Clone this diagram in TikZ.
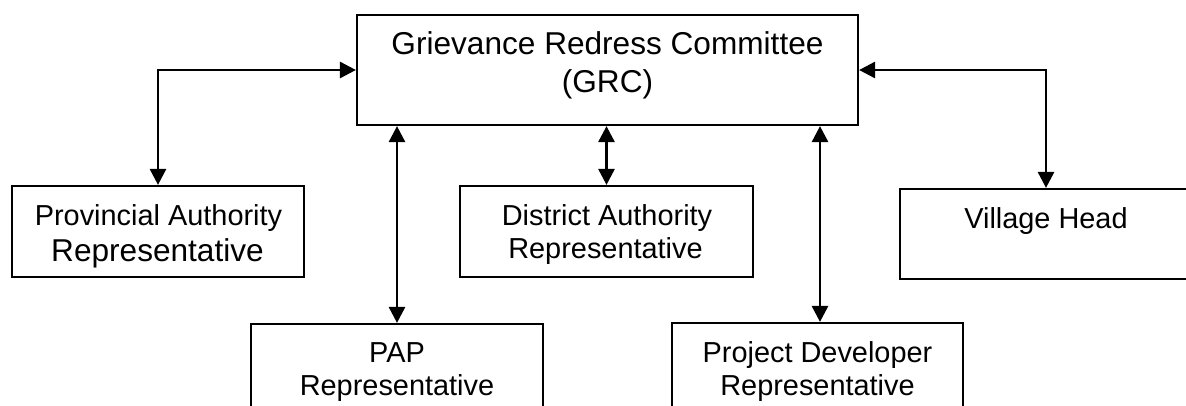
\documentclass[tikz,border=0pt]{standalone}
\usepackage{fontspec}
\setmainfont{Liberation Sans}
\usetikzlibrary{arrows.meta}
\begin{document}
\begin{tikzpicture}[x=1pt,y=-1pt,
  box/.style={draw=black, line width=2.2pt, rectangle, inner sep=0pt, fill=white},
  txt/.style={anchor=base, inner sep=0pt, font=\fontsize{28.9}{34}\selectfont},
  bigtxt/.style={anchor=base, inner sep=0pt, font=\fontsize{31.6}{38}\selectfont},
  arr/.style={line width=2.8pt, {Triangle[length=16pt,width=16pt]}-{Triangle[length=16pt,width=16pt]}}
]
\useasboundingbox (0,0) rectangle (1186,405);
\clip (0,0) rectangle (1186,405);
% boxes
\node[box, minimum width=501pt, minimum height=110pt] (grc) at (607.5,70) {};
\node[box, minimum width=292pt, minimum height=91pt] (prov) at (158,231.5) {};
\node[box, minimum width=293pt, minimum height=91pt] (dist) at (606.5,231.5) {};
\node[box, minimum width=292pt, minimum height=90pt] (vil) at (1046,234) {};
\node[box, minimum width=292pt, minimum height=90pt] (pap) at (397,369) {};
\node[box, minimum width=291pt, minimum height=90pt] (pd) at (817.5,368) {};
% texts
\node[bigtxt] (grc1) at (607.5,54) {Grievance Redress Committee};
\node[bigtxt] (grc2) at (607.5,92.5) {(GRC)};
\node[txt] (prov1) at (158.5,225.5) {Provincial Authority};
\node[bigtxt] (prov2) at (157.5,261.5) {Representative};
\node[txt] (dist1) at (607,225.5) {District Authority};
\node[txt] (dist2) at (605.5,258) {Representative};
\node[txt] (vil1) at (1046,228) {Village Head};
\node[txt] (pap1) at (397,362.5) {PAP};
\node[txt] (pap2) at (397,395.5) {Representative};
\node[txt] (pd1) at (817.5,362.5) {Project Developer};
\node[txt] (pd2) at (817.5,395.5) {Representative};
% connectors
\draw[arr] (grc.west) -| (prov.north);
\draw[arr] (grc.east) -| (vil.north);
\draw[arr] (grc.south -| pap.north) -- (pap.north);
\draw[arr] (grc.south -| dist.north) -- (dist.north);
\coordinate (pdtop) at ([xshift=2.5pt]pd.north);
\draw[arr] (grc.south -| pdtop) -- (pdtop);
\end{tikzpicture}
\end{document}
